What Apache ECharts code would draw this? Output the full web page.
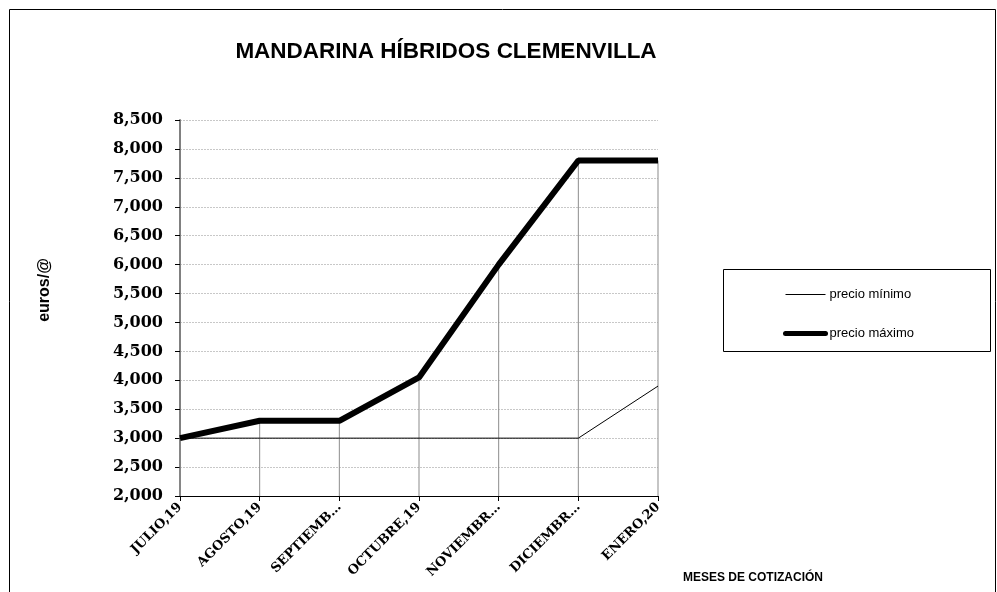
<!DOCTYPE html>
<html>
<head>
<meta charset="utf-8">
<script src="https://cdn.jsdelivr.net/npm/echarts@6/dist/echarts.min.js"></script>
<style>
  html, body { margin: 0; padding: 0; background: #fff; }
  #chart { width: 997px; height: 592px; }
</style>
</head>
<body>
<div id="chart"></div>
<script>
  // meses y precios (euros/@)
  const meses = ['JULIO,19', 'AGOSTO,19', 'SEPTIEMB…', 'OCTUBRE,19', 'NOVIEMBR…', 'DICIEMBR…', 'ENERO,20'];
  const precioMinimo = [3.0, 3.0, 3.0, 3.0, 3.0, 3.0, 3.9];
  const precioMaximo = [3.0, 3.3, 3.3, 4.05, 6.0, 7.8, 7.8];

  const serifFont = '"DejaVu Serif", serif';
  const sansFont = 'Arial, "Liberation Sans"';

  let option = {
    animation: false,
    backgroundColor: '#fff',
    title: {
      text: 'MANDARINA HÍBRIDOS CLEMENVILLA',
      left: 441,
      textAlign: 'center',
      top: 35,
      textStyle: {
        fontFamily: sansFont,
        fontSize: 22.5,
        fontWeight: 'bold',
        color: '#000'
      }
    },
    legend: {
      data: [
        { name: 'precio mínimo', lineStyle: { width: 1 } },
        { name: 'precio máximo', lineStyle: { width: 5, cap: 'round' } }
      ],
      orient: 'vertical',
      left: 778,
      top: 283,
      itemWidth: 40,
      itemHeight: 14,
      itemGap: 26,
      itemStyle: { opacity: 0 },
      textStyle: {
        fontFamily: sansFont,
        fontSize: 13,
        color: '#000',
        padding: [0, 0, 0, -1]
      }
    },
    graphic: [
      {
        type: 'rect',
        shape: { x: 9.5, y: 9.5, width: 986, height: 600 },
        style: { fill: 'none', stroke: '#000', lineWidth: 1 },
        silent: true
      },
      {
        type: 'rect',
        shape: { x: 723.5, y: 269.5, width: 267, height: 82 },
        style: { fill: 'none', stroke: '#000', lineWidth: 1 },
        silent: true
      },
      {
        type: 'text',
        left: 683,
        top: 572,
        style: {
          text: 'MESES DE COTIZACIÓN',
          fontFamily: sansFont,
          fontSize: 12,
          fontWeight: 'bold',
          fill: '#000'
        }
      },
      {
        type: 'text',
        x: 45,
        y: 290,
        rotation: Math.PI / 2,
        style: {
          text: 'euros/@',
          fontFamily: sansFont,
          fontSize: 16,
          fontWeight: 'bold',
          fill: '#000',
          align: 'center',
          verticalAlign: 'middle'
        }
      }
    ],
    grid: {
      left: 180,
      right: 339,
      top: 120,
      bottom: 96
    },
    xAxis: {
      type: 'category',
      data: meses,
      boundaryGap: false,
      axisLine: { lineStyle: { color: '#000', width: 1 } },
      axisTick: { show: true, length: 5, lineStyle: { color: '#000' } },
      axisLabel: {
        rotate: 45,
        margin: 9,
        fontFamily: serifFont,
        fontWeight: 'bold',
        fontSize: 13,
        color: '#000'
      },
      splitLine: { show: false }
    },
    yAxis: {
      type: 'value',
      min: 2,
      max: 8.5,
      interval: 0.5,
      axisLine: { show: true, lineStyle: { color: '#808080', width: 2 } },
      axisTick: { show: true, length: 5, lineStyle: { color: '#000' } },
      axisLabel: {
        margin: 17,
        fontFamily: serifFont,
        fontWeight: 'bold',
        fontSize: 16,
        color: '#000',
        formatter: function (v) {
          return v.toFixed(3).replace('.', ',');
        }
      },
      splitLine: {
        show: true,
        lineStyle: { color: '#c8c8c8', type: [2, 1], width: 1 }
      }
    },
    series: [
      {
        // líneas de proyección
        name: 'drop',
        type: 'bar',
        data: precioMaximo,
        barWidth: 1,
        itemStyle: { color: '#8c8c8c' },
        silent: true,
        z: 1
      },
      {
        name: 'precio mínimo',
        type: 'line',
        data: precioMinimo,
        symbol: 'none',
        lineStyle: { color: '#000', width: 1 },
        itemStyle: { color: '#000' },
        z: 3
      },
      {
        name: 'precio máximo',
        type: 'line',
        data: precioMaximo,
        symbol: 'none',
        lineStyle: { color: '#000', width: 6 },
        itemStyle: { color: '#000' },
        z: 4
      }
    ]
  };

  echarts.init(document.getElementById('chart')).setOption(option);
</script>
</body>
</html>
